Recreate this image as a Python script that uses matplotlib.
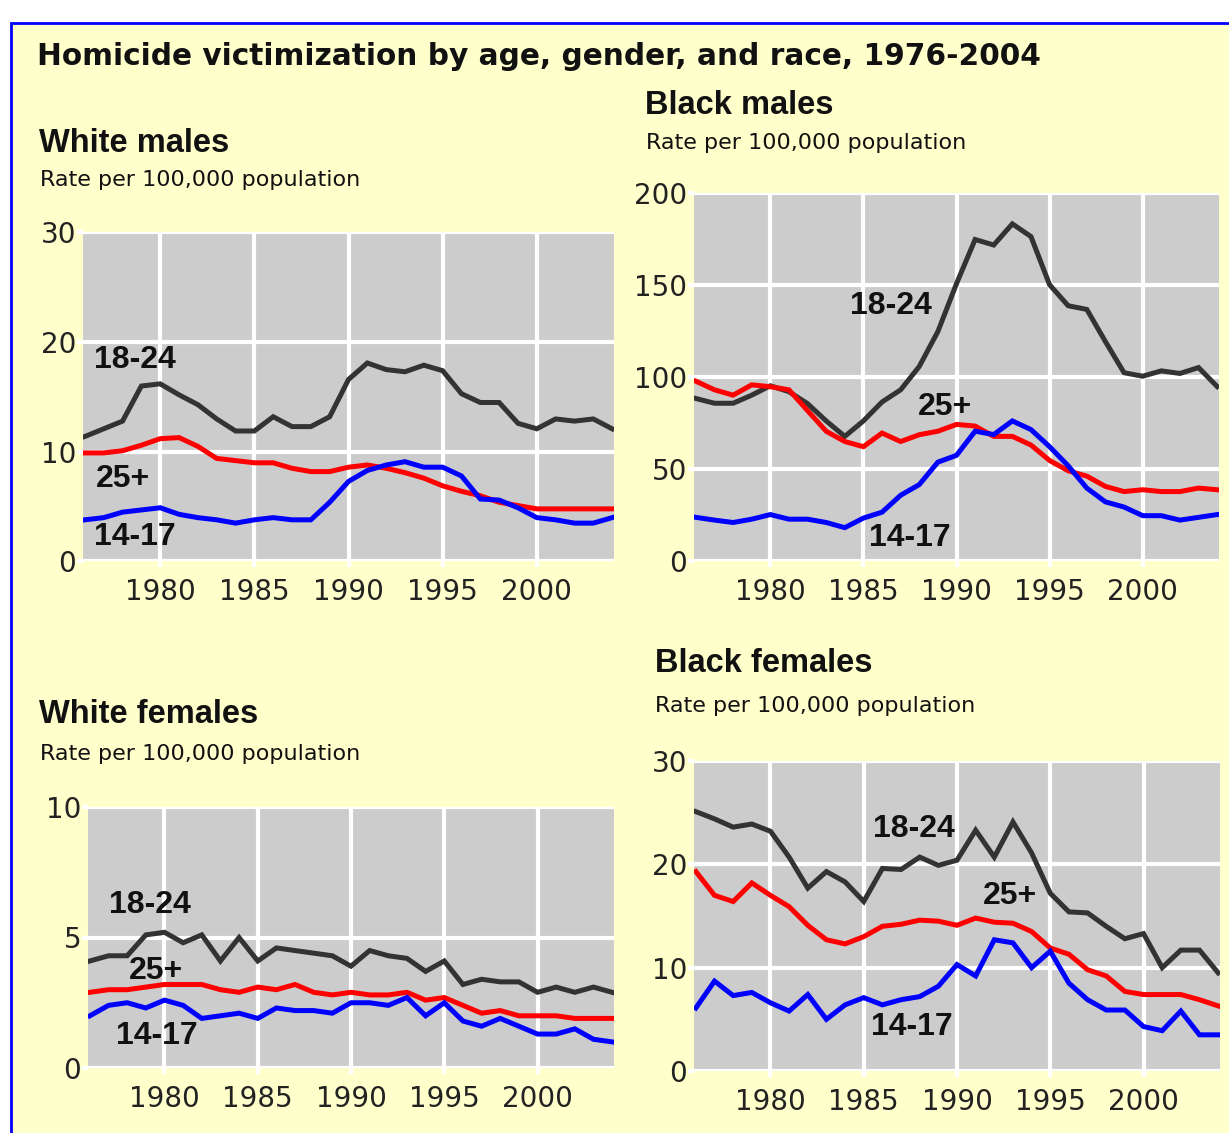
import matplotlib
matplotlib.use("Agg")
import matplotlib.pyplot as plt
from matplotlib.patches import Rectangle

# Homicide victimization rates per 100,000, 1976-2004
years = list(range(1976, 2005))

wm_1824 = [11.4, 12.1, 12.8, 16.0, 16.2, 15.2, 14.3, 13.0, 11.9, 11.9, 13.2, 12.3, 12.3, 13.2, 16.6,
           18.1, 17.5, 17.3, 17.9, 17.4, 15.3, 14.5, 14.5, 12.6, 12.1, 13.0, 12.8, 13.0, 12.1]
wm_25 = [9.9, 9.9, 10.1, 10.6, 11.2, 11.3, 10.5, 9.4, 9.2, 9.0, 9.0, 8.5, 8.2, 8.2, 8.6,
         8.8, 8.5, 8.1, 7.6, 6.9, 6.4, 6.0, 5.4, 5.1, 4.8, 4.8, 4.8, 4.8, 4.8]
wm_1417 = [3.8, 4.0, 4.5, 4.7, 4.9, 4.3, 4.0, 3.8, 3.5, 3.8, 4.0, 3.8, 3.8, 5.4, 7.3,
           8.3, 8.8, 9.1, 8.6, 8.6, 7.8, 5.7, 5.6, 4.9, 4.0, 3.8, 3.5, 3.5, 4.0]

bm_1824 = [88.6, 86, 86, 90.4, 95.5, 92.3, 85.8, 76.4, 68, 76.4, 86.7, 93.3, 106, 125, 151,
           175, 172, 183.5, 176.6, 150.4, 139, 137, 119.5, 102.6, 100.7, 103.6, 102.2, 105.4, 95.1]
bm_25 = [98, 93.3, 90.4, 96, 95, 93.3, 82, 70.8, 65.2, 62.4, 69.8, 65.2, 68.9, 70.8, 74.5,
         73.6, 68, 68, 63.3, 54.9, 49.3, 46.4, 40.8, 38, 39, 38, 38, 39.9, 39]
bm_1417 = [24, 22.5, 21.2, 23, 25.5, 23, 23, 21.2, 18.4, 23.6, 26.8, 36, 41.8, 54, 57.7,
           70.8, 69, 76.4, 71.7, 62.4, 52, 39.9, 32.4, 29.6, 24.9, 24.9, 22.5, 24, 25.5]

wf_1824 = [4.1, 4.3, 4.3, 5.1, 5.2, 4.8, 5.1, 4.1, 5.0, 4.1, 4.6, 4.5, 4.4, 4.3, 3.9,
           4.5, 4.3, 4.2, 3.7, 4.1, 3.2, 3.4, 3.3, 3.3, 2.9, 3.1, 2.9, 3.1, 2.9]
wf_25 = [2.9, 3.0, 3.0, 3.1, 3.2, 3.2, 3.2, 3.0, 2.9, 3.1, 3.0, 3.2, 2.9, 2.8, 2.9,
         2.8, 2.8, 2.9, 2.6, 2.7, 2.4, 2.1, 2.2, 2.0, 2.0, 2.0, 1.9, 1.9, 1.9]
wf_1417 = [2.0, 2.4, 2.5, 2.3, 2.6, 2.4, 1.9, 2.0, 2.1, 1.9, 2.3, 2.2, 2.2, 2.1, 2.5,
           2.5, 2.4, 2.7, 2.0, 2.5, 1.8, 1.6, 1.9, 1.6, 1.3, 1.3, 1.5, 1.1, 1.0]

bf_1824 = [25.1, 24.4, 23.6, 23.9, 23.2, 20.7, 17.7, 19.3, 18.3, 16.4, 19.6, 19.5, 20.7, 19.9, 20.4,
           23.3, 20.7, 24.1, 21.1, 17.2, 15.4, 15.3, 14.0, 12.8, 13.3, 10.0, 11.7, 11.7, 9.5]
bf_25 = [19.3, 17.0, 16.4, 18.2, 17.0, 15.9, 14.1, 12.7, 12.3, 13.0, 14.0, 14.2, 14.6, 14.5, 14.1,
         14.8, 14.4, 14.3, 13.5, 11.9, 11.3, 9.8, 9.2, 7.7, 7.4, 7.4, 7.4, 6.9, 6.3]
bf_1417 = [6.1, 8.7, 7.3, 7.6, 6.6, 5.8, 7.4, 5.0, 6.4, 7.1, 6.4, 6.9, 7.2, 8.2, 10.3,
           9.2, 12.7, 12.4, 10.0, 11.6, 8.5, 6.9, 5.9, 5.9, 4.3, 3.9, 5.8, 3.5, 3.5]

age_groups = ["18-24", "25+", "14-17"]
colors = ["#333333", "#FF0000", "#0000FF"]
xticks = [1980, 1985, 1990, 1995, 2000]

W, H = 1229, 1133
fig = plt.figure(figsize=(W / 100, H / 100), dpi=100)
fig.patch.set_facecolor("white")
fig.add_artist(Rectangle((11 / W, -0.05), 1.2, 1 - 23 / H + 0.05, transform=fig.transFigure,
                         facecolor="#FFFFCC", edgecolor="#0000FF", lw=2, zorder=-10))


def px_axes(l, t, r, b):
    return fig.add_axes([l / W, 1 - b / H, (r - l) / W, (b - t) / H])


def fig_text(x, y, s, **kw):
    fig.text(x / W, 1 - y / H, s, va="baseline", ha="left", **kw)


def panel(box, series, ylim, yticks, label_pos, name, name_xy, sub_xy):
    ax = px_axes(*box)
    ax.set_facecolor("#CCCCCC")
    for vals, c in zip(series, colors):
        ax.plot(years, vals, color=c, lw=3.6, solid_joinstyle="miter", zorder=3)
    for (lx, ly), lab in zip(label_pos, age_groups):
        ax.text(lx, ly, lab, fontsize=23, fontweight="bold", family="Liberation Sans",
                color="#111111", va="center", ha="left", zorder=4)
    ax.set_xlim(1975.9, 2004.1)
    ax.set_ylim(*ylim)
    ax.set_xticks(xticks)
    ax.set_yticks(yticks)
    ax.grid(True, color="white", lw=3)
    ax.set_axisbelow(True)
    for sp in ax.spines.values():
        sp.set_visible(False)
    ax.tick_params(length=4, width=3, color="white", labelcolor="#222222", labelsize=20)
    ax.tick_params(axis="x", pad=8)
    ax.tick_params(axis="y", pad=1)
    fig_text(*name_xy, name, fontsize=23.5, fontweight="bold", family="Liberation Sans", color="#111111")
    fig_text(*sub_xy, "Rate per 100,000 population", fontsize=16, color="#111111")
    return ax


fig_text(37, 65, "Homicide victimization by age, gender, and race, 1976-2004",
         fontsize=21.3, fontweight="bold", color="#111111")

panel((83, 232.5, 614, 561.5), [wm_1824, wm_25, wm_1417], (0, 30), [0, 10, 20, 30],
      [(1976.5, 18.4), (1976.6, 7.5), (1976.5, 2.2)], "White males", (39, 152), (40, 186))
panel((694, 193.5, 1219, 561.5), [bm_1824, bm_25, bm_1417], (0, 200), [0, 50, 100, 150, 200],
      [(1984.3, 139), (1987.9, 84), (1985.3, 12.7)], "Black males", (645, 114), (646, 149))
panel((88, 807, 614, 1068), [wf_1824, wf_25, wf_1417], (0, 10), [0, 5, 10],
      [(1977.0, 6.24), (1978.1, 3.73), (1977.4, 1.21)], "White females", (39, 723), (40, 760))
panel((694, 761, 1220, 1071), [bf_1824, bf_25, bf_1417], (0, 30), [0, 10, 20, 30],
      [(1985.5, 23.4), (1991.4, 16.9), (1985.4, 4.3)], "Black females", (655, 672), (655, 712))

fig.savefig("out.png", dpi=100, facecolor=fig.get_facecolor())
